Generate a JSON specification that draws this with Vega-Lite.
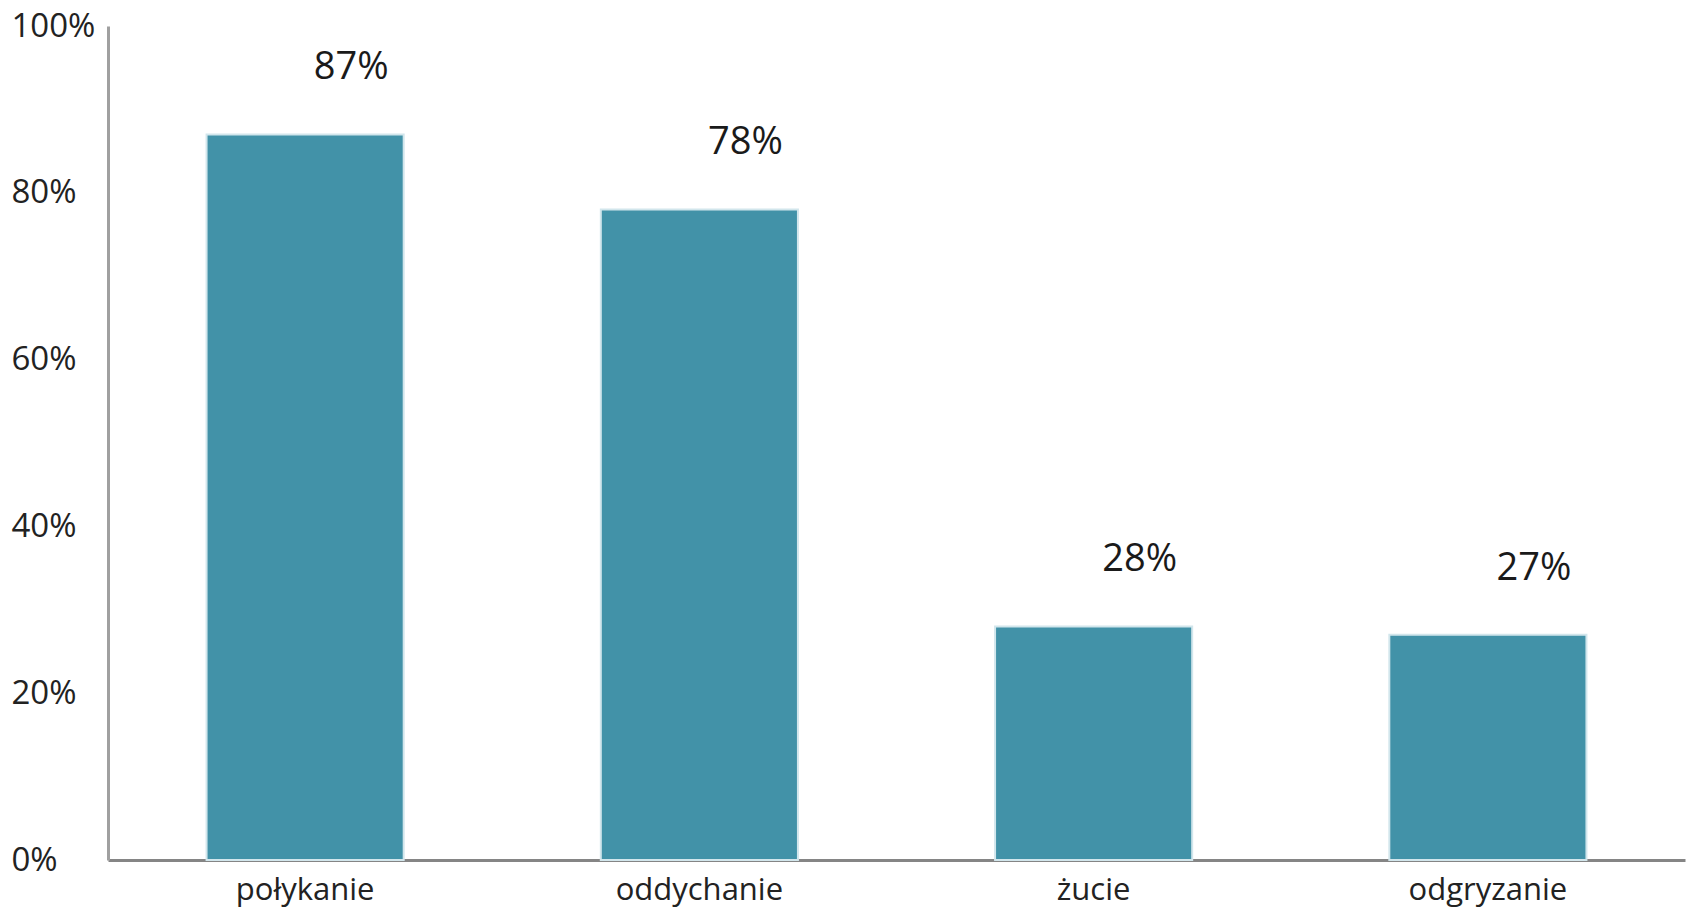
{
  "$schema": "https://vega.github.io/schema/vega-lite/v6.json",
  "width": 1577,
  "height": 834,
  "autosize": {"type": "none"},
  "padding": {"left": 108, "top": 26, "right": 3, "bottom": 56},
  "background": "white",
  "config": {"view": {"stroke": null}, "font": "Open Sans"},
  "data": {"values": [
    {"kategoria": "połykanie", "wartosc": 0.87},
    {"kategoria": "oddychanie", "wartosc": 0.78},
    {"kategoria": "żucie", "wartosc": 0.28},
    {"kategoria": "odgryzanie", "wartosc": 0.27}
  ]},
  "encoding": {
    "x": {"field": "kategoria", "type": "nominal", "sort": null,
      "scale": {"paddingInner": 0.5, "paddingOuter": 0.25},
      "axis": {"title": null, "labelAngle": 0, "ticks": false, "labelPadding": 15,
        "labelFontSize": 31, "labelColor": "#222", "labelFont": "Open Sans",
        "domainColor": "#858585", "domainWidth": 3}},
    "y": {"field": "wartosc", "type": "quantitative",
      "scale": {"domain": [0, 1], "nice": false},
      "axis": {"title": null, "format": ".0%", "values": [0, 0.2, 0.4, 0.6, 0.8, 1],
        "grid": false, "ticks": false, "labelAlign": "left", "labelPadding": 97,
        "labelBaseline": "middle", "labelFontSize": 33, "labelColor": "#222",
        "labelFont": "Open Sans", "domainColor": "#a0a0a0", "domainWidth": 3}}
  },
  "layer": [
    {"mark": {"type": "bar", "color": "#4292A8", "stroke": "#d2e6ec", "strokeWidth": 2}},
    {"mark": {"type": "text", "dx": 46, "dy": -66, "fontSize": 38, "color": "#1a1a1a",
        "baseline": "middle", "align": "center", "font": "Open Sans"},
      "encoding": {"text": {"field": "wartosc", "type": "quantitative", "format": ".0%"}}}
  ]
}
